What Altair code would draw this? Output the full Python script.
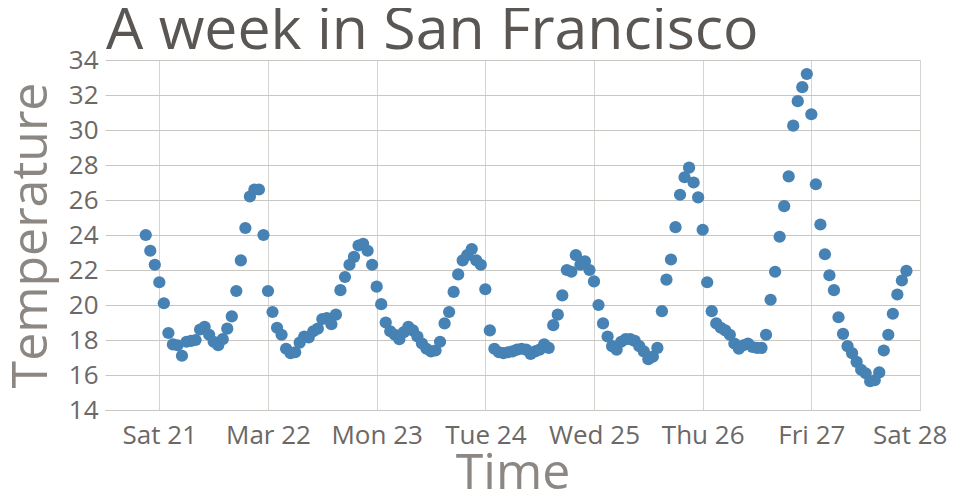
import altair as alt
import pandas as pd

# Hourly temperatures, starting 2015-03-20 21:00 (local time)
start_time = "2015-03-20 21:00"
temperatures = [
    24.0, 23.1, 22.3, 21.3, 20.1, 18.4, 17.75, 17.7, 17.1, 17.9,
    17.95, 18.0, 18.6, 18.75, 18.3, 17.9, 17.7, 18.05, 18.65, 19.35,
    20.8, 22.55, 24.4, 26.2, 26.6, 26.6, 24.0, 20.8, 19.6, 18.7,
    18.3, 17.5, 17.25, 17.3, 17.85, 18.2, 18.15, 18.5, 18.65, 19.2,
    19.25, 18.9, 19.45, 20.85, 21.6, 22.3, 22.75, 23.4, 23.5, 23.1,
    22.3, 21.05, 20.05, 19.0, 18.5, 18.3, 18.05, 18.45, 18.75, 18.55,
    18.2, 17.8, 17.5, 17.35, 17.4, 17.9, 18.95, 19.6, 20.75, 21.75,
    22.55, 22.85, 23.2, 22.55, 22.3, 20.9, 18.55, 17.5, 17.3, 17.25,
    17.3, 17.35, 17.45, 17.5, 17.45, 17.2, 17.35, 17.45, 17.75, 17.55,
    18.85, 19.45, 20.55, 22.0, 21.9, 22.85, 22.3, 22.5, 22.0, 21.35,
    20.0, 18.95, 18.2, 17.65, 17.45, 17.9, 18.05, 18.05, 17.95, 17.65,
    17.35, 16.9, 17.05, 17.55, 19.65, 21.45, 22.6, 24.45, 26.3, 27.3,
    27.85, 27.0, 26.15, 24.3, 21.3, 19.65, 18.95, 18.7, 18.55, 18.3,
    17.8, 17.5, 17.7, 17.8, 17.6, 17.55, 17.55, 18.3, 20.3, 21.9,
    23.9, 25.65, 27.35, 30.25, 31.65, 32.45, 33.2, 30.9, 26.9, 24.6,
    22.9, 21.7, 20.85, 19.3, 18.35, 17.65, 17.25, 16.75, 16.3, 16.1,
    15.65, 15.7, 16.15, 17.4, 18.3, 19.5, 20.6, 21.4, 21.95,
]
y_ticks = [14, 16, 18, 20, 22, 24, 26, 28, 30, 32, 34]

times = pd.date_range(start_time, periods=len(temperatures), freq="h")
df = pd.DataFrame({
    "time": times.strftime("%Y-%m-%dT%H:%M:%S"),
    "temperature": temperatures,
})

FONT = "Open Sans"
GRID = "#c9c6c2"

chart = alt.Chart(df).mark_circle(
    size=150, opacity=1, color="#4682b4"
).encode(
    x=alt.X(
        "time:T",
        title="Time",
        scale=alt.Scale(
            domain=[
                alt.DateTime(year=2015, month=3, date=20, hours=12),
                alt.DateTime(year=2015, month=3, date=28),
            ],
            nice=False,
        ),
        axis=alt.Axis(
            tickCount=alt.TimeIntervalStep(interval="day", step=1),
            labelFlush=True,
            labelFlushOffset=27,
            labelOverlap=False,
            ticks=False,
            labelPadding=12,
            titlePadding=0,
            domainColor=GRID,
            gridColor="#d6d4d1",
        ),
    ),
    y=alt.Y(
        "temperature:Q",
        title="Temperature",
        scale=alt.Scale(domain=[14, 34], nice=False, zero=False),
        axis=alt.Axis(
            values=y_ticks,
            ticks=False,
            domain=False,
            labelPadding=7,
            titlePadding=12,
            gridColor=GRID,
        ),
    ),
).properties(
    width=815,
    height=350,
    padding={"left": 97, "top": 52, "right": 30, "bottom": 88},
    autosize=alt.AutoSizeParams(type="none"),
    title=alt.TitleParams(
        "A week in San Francisco",
        anchor="start",
        frame="group",
        fontSize=59,
        fontWeight="normal",
        font=FONT,
        color="#5a5653",
        offset=4,
        dy=18,
        dx=1,
    ),
).configure_axis(
    labelFont=FONT,
    titleFont=FONT,
    labelFontSize=26,
    titleFontSize=50,
    titleFontWeight="normal",
    labelColor="#6b6866",
    titleColor="#8c8782",
).configure_view(
    stroke=None,
)

chart.save("out.html", embed_options={"renderer": "svg", "actions": False})
